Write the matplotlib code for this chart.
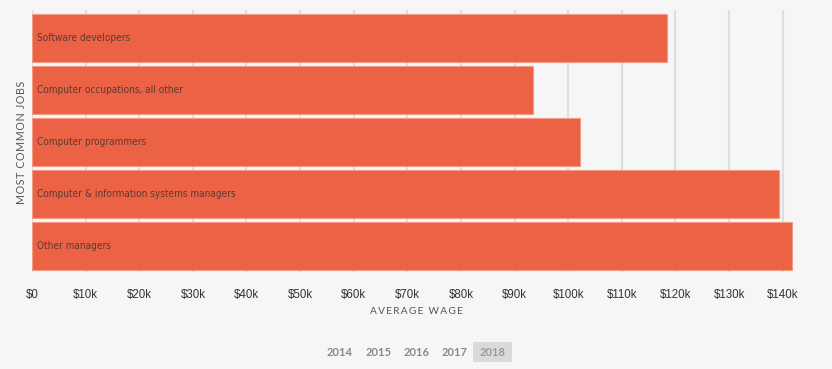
import matplotlib

matplotlib.use("Agg")
import matplotlib.pyplot as plt
from matplotlib.patches import Rectangle

jobs = [
    "Software developers",
    "Computer occupations, all other",
    "Computer programmers",
    "Computer & information systems managers",
    "Other managers",
]
wages = [118400, 93400, 102200, 139300, 141700]
ticks = list(range(0, 150000, 10000))
tick_labels = ["$0"] + [f"${t // 1000}k" for t in ticks[1:]]
years = ["2014", "2015", "2016", "2017", "2018"]
active_year = "2018"

BG = "#f6f6f6"
BAR = "#eb6244"
W, H = 832, 369

fig = plt.figure(figsize=(W / 100, H / 100), dpi=100, facecolor=BG)
# axes in pixel coordinates: left 32, right 810, top 10, bottom 272
ax = fig.add_axes([32 / W, 1 - 272 / H, 778 / W, 262 / H], facecolor=BG)
ax.set_xlim(0, 778 / 53.62 * 10000)
ax.set_ylim(4.5, -0.538)

for t in ticks:
    ax.axvline(t, color="#dedede", lw=1.5, zorder=0)

ax.barh(range(len(jobs)), wages, height=48 / 52, color=BAR,
        edgecolor="#f29a84", linewidth=0.8, zorder=2)
for i, name in enumerate(jobs):
    ax.text(900, i, name, va="center", ha="left", fontsize=7.2,
            family="DejaVu Sans", fontstretch="condensed",
            color="#5a3a33", zorder=3)

for s in ax.spines.values():
    s.set_visible(False)
ax.set_yticks([])
ax.set_xticks(ticks)
ax.set_xticklabels(tick_labels, family="Liberation Sans", fontsize=8.3,
                   color="#333333")
ax.tick_params(axis="x", length=0, pad=12)

fig.text(416 / W, 1 - 311 / H, "\u2009".join("AVERAGE WAGE"), ha="center",
         va="center", fontsize=7.3, family="Lato", color="#555555")
fig.text(22 / W, 1 - 142 / H, "\u200a".join("MOST COMMON JOBS"), ha="center",
         va="center", rotation=90, fontsize=7.7, family="Lato",
         color="#555555")

# year selector
for k, y in enumerate(years):
    cx = 340 + 38.2 * k
    if y == active_year:
        fig.patches.append(Rectangle(((cx - 19.5) / W, 1 - 362 / H), 39 / W,
                                     20 / H, transform=fig.transFigure,
                                     facecolor="#dadada", edgecolor="none"))
    fig.text(cx / W, 1 - 352 / H, y, ha="center", va="center", fontsize=8,
             family="Lato", weight="bold",
             color="#999999" if y == active_year else "#888888")

fig.savefig("out.png", dpi=100, facecolor=BG)
